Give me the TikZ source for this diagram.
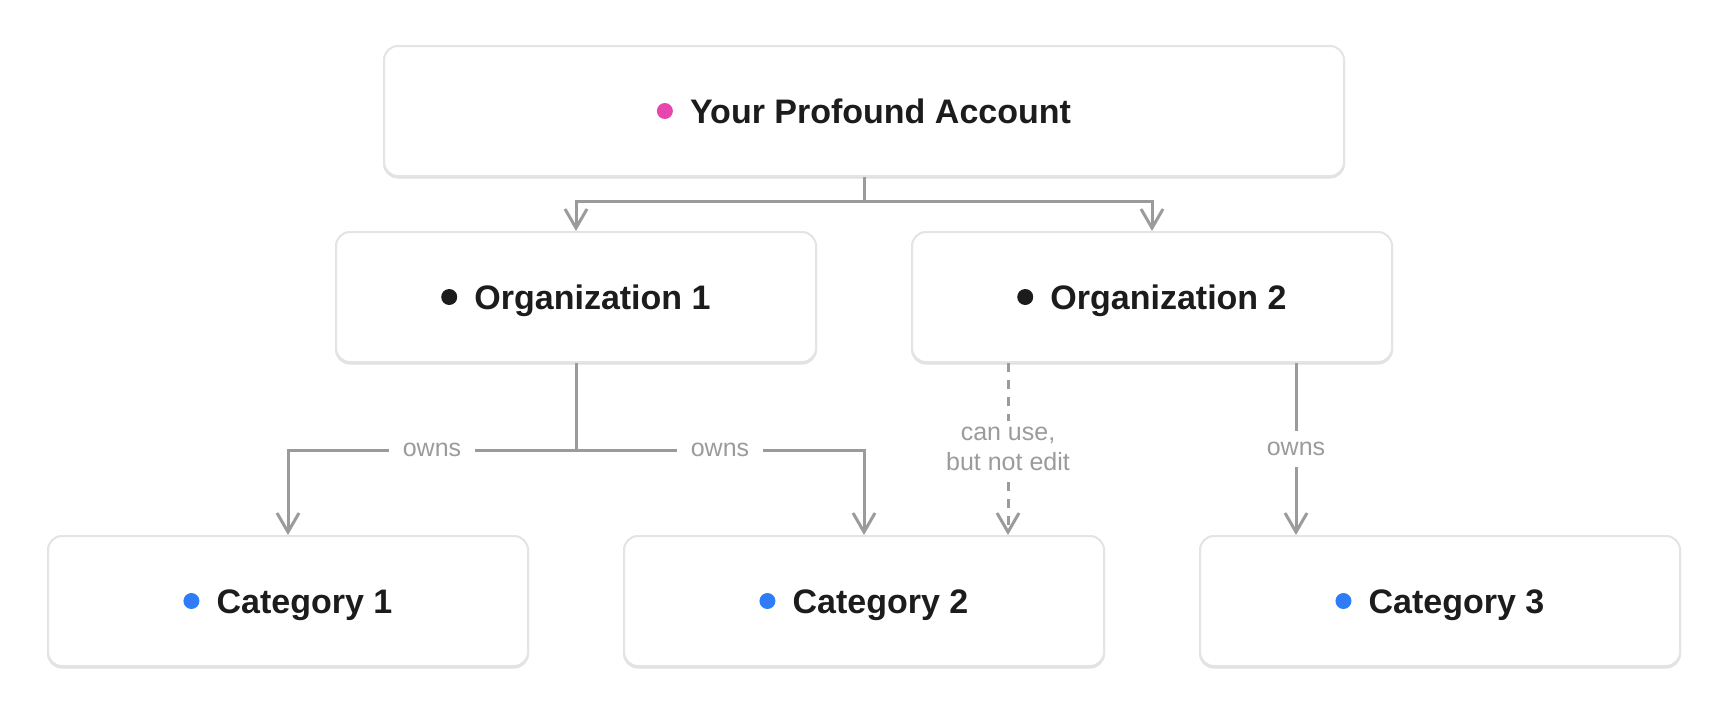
\documentclass[tikz,border=0pt]{standalone}
\usepackage{fontspec}
\setmainfont{Liberation Sans}
\usetikzlibrary{arrows.meta,shadows}
\definecolor{boxline}{HTML}{E4E4E4}
\definecolor{shadowc}{HTML}{E0E0E0}
\definecolor{conn}{HTML}{9B9B9B}
\definecolor{ink}{HTML}{1C1C1C}
\definecolor{pinkdot}{HTML}{E646AE}
\definecolor{bluedot}{HTML}{2E7DF7}
\definecolor{blackdot}{HTML}{1C1C1C}
\begin{document}
\begin{tikzpicture}[x=1pt,y=-1pt,
  box/.style={draw=boxline, line width=2pt, fill=white, rounded corners=14pt,
    minimum width=480pt, minimum height=130pt, inner sep=0pt,
    copy shadow={shadow xshift=0pt, shadow yshift=-1.5pt, draw=shadowc, fill=shadowc}},
  title/.style={anchor=base, inner sep=0pt, text=ink, font=\fontsize{34}{40}\selectfont\bfseries},
  lbl/.style={fill=white, text=conn, font=\fontsize{25}{30}\selectfont, inner xsep=14pt, inner ysep=11pt, align=center},
  link/.style={draw=conn, line width=3pt, -{Straight Barb[length=19pt,width=22pt]}},
]
\fill[white] (0,0) rectangle (1728,712);
\useasboundingbox (0,0) rectangle (1728,712);

% boxes
\node[box, minimum width=960pt] (acc)  at (864,111) {};
\node[box] (org1) at (576,297) {};
\node[box] (org2) at (1152,297) {};
\node[box] (cat1) at (288,601) {};
\node[box] (cat2) at (864,601) {};
\node[box] (cat3) at (1440,601) {};

% titles
\node[title] (tacc)  at ([yshift=-12pt]acc.center)  {\hspace{33pt}Your Profound Account};
\node[title] (torg1) at ([yshift=-12pt]org1.center) {\hspace{33pt}Organization 1};
\node[title] (torg2) at ([yshift=-12pt]org2.center) {\hspace{33pt}Organization 2};
\node[title] (tcat1) at ([yshift=-12pt]cat1.center) {\hspace{33pt}Category 1};
\node[title] (tcat2) at ([yshift=-12pt]cat2.center) {\hspace{33pt}Category 2};
\node[title] (tcat3) at ([yshift=-12pt]cat3.center) {\hspace{33pt}Category 3};

% dots
\fill[pinkdot]  ([xshift=8pt,yshift=12pt]tacc.base west)  circle (8pt);
\fill[blackdot] ([xshift=8pt,yshift=12pt]torg1.base west) circle (8pt);
\fill[blackdot] ([xshift=8pt,yshift=12pt]torg2.base west) circle (8pt);
\fill[bluedot]  ([xshift=8pt,yshift=12pt]tcat1.base west) circle (8pt);
\fill[bluedot]  ([xshift=8pt,yshift=12pt]tcat2.base west) circle (8pt);
\fill[bluedot]  ([xshift=8pt,yshift=12pt]tcat3.base west) circle (8pt);

% connectors
\draw[link] (acc.south) -- ++(0,24) -| (org1.north);
\draw[link] (acc.south) -- ++(0,24) -| (org2.north);
\draw[link] (org1.south) -- ++(0,87) -| node[pos=0.25, lbl] {owns} (cat1.north);
\draw[link] (org1.south) -- ++(0,87) -| node[pos=0.25, lbl] {owns} (cat2.north);
\draw[link, dash pattern=on 9pt off 8pt] ([xshift=-144pt]org2.south) -- node[midway, lbl, inner ysep=6pt] {can use,\\but not edit} ([xshift=144pt]cat2.north);
\draw[link] ([xshift=144pt]org2.south) -- node[midway, lbl] {owns} ([xshift=-144pt]cat3.north);
\end{tikzpicture}
\end{document}
